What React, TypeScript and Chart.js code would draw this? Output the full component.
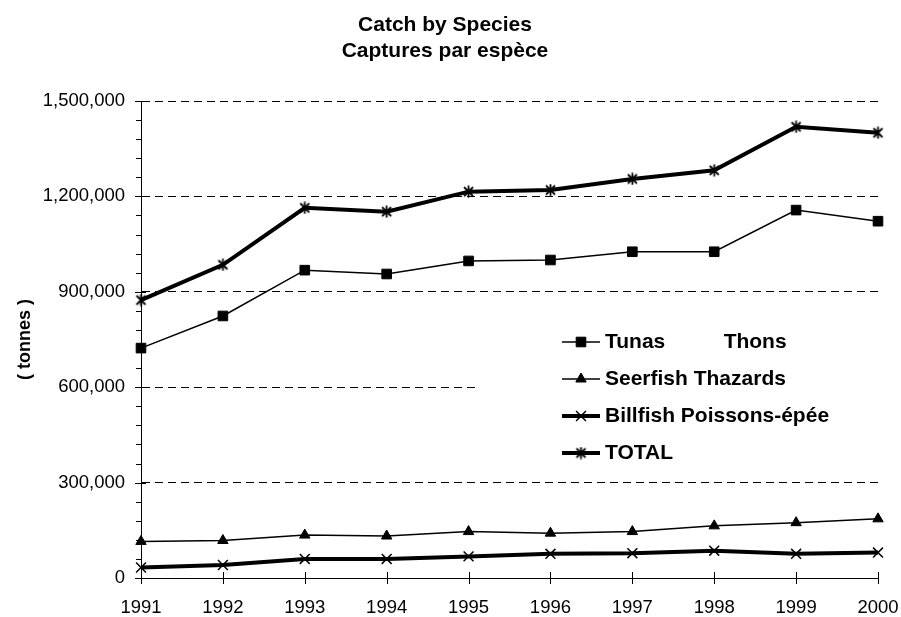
import React, { useEffect, useRef } from 'react';
import { Chart, registerables } from 'chart.js';
import { drawPoint } from 'chart.js/helpers';

Chart.register(...registerables);

// ---- data ----
const years = ['1991', '1992', '1993', '1994', '1995', '1996', '1997', '1998', '1999', '2000'];
const tunas = [723000, 824000, 968000, 956000, 997000, 1000000, 1026000, 1026000, 1157000, 1122000];
const seerfish = [115000, 118000, 135000, 132000, 146000, 141000, 146000, 164000, 174000, 186000];
const billfish = [33000, 41000, 60000, 60000, 68000, 76000, 78000, 86000, 76000, 80000];
const total = [874000, 985000, 1164000, 1152000, 1215000, 1220000, 1255000, 1282000, 1419000, 1400000];
const seriesLabels = ['Tunas          Thons', 'Seerfish Thazards', 'Billfish Poissons-épée', 'TOTAL'];
const titleLines = ['Catch by Species', 'Captures par espèce'];
const yAxisTitle = '( tonnes )';
const yMin = 0;
const yMax = 1500000;
const yMinorStep = 60000;
const yMajorStep = 300000;

const FONT = 'Arial, "Liberation Sans", Helvetica, sans-serif';

function makeAsterisk(): HTMLCanvasElement {
  const c = document.createElement('canvas');
  c.width = 13;
  c.height = 13;
  const g = c.getContext('2d')!;
  g.strokeStyle = '#000';
  g.lineWidth = 1.8;
  g.beginPath();
  g.moveTo(2, 2);
  g.lineTo(11, 11);
  g.moveTo(11, 2);
  g.lineTo(2, 11);
  g.moveTo(6.5, 0.5);
  g.lineTo(6.5, 12.5);
  g.stroke();
  return c;
}

const crossTicks = {
  id: 'crossTicks',
  beforeDatasetsDraw(chart: any) {
    const { ctx } = chart;
    const x = chart.scales.x;
    const y = chart.scales.y;
    ctx.save();
    ctx.strokeStyle = '#000';
    ctx.lineWidth = 1;
    ctx.setLineDash([]);
    ctx.beginPath();
    x.ticks.forEach((_t: any, i: number) => {
      const px = Math.round(x.getPixelForTick(i)) + 0.5;
      ctx.moveTo(px, y.bottom - 6);
      ctx.lineTo(px, y.bottom + 6);
    });
    y.ticks.forEach((t: any, i: number) => {
      const py = Math.round(y.getPixelForTick(i)) + 0.5;
      const major = t.value % yMajorStep === 0;
      ctx.moveTo(x.left - (major ? 6 : 5), py);
      ctx.lineTo(x.left + (major ? 5 : 0), py);
    });
    ctx.stroke();
    ctx.restore();
  },
};

const boxLegend = {
  id: 'boxLegend',
  afterDatasetsDraw(chart: any, _args: any, o: any) {
    const { ctx } = chart;
    ctx.save();
    ctx.fillStyle = '#fff';
    ctx.fillRect(o.left, o.top, o.right - o.left, o.bottom - o.top);
    chart.data.datasets.forEach((ds: any, i: number) => {
      const y = o.firstRow + i * o.rowGap;
      ctx.setLineDash([]);
      ctx.strokeStyle = ds.borderColor;
      ctx.lineWidth = ds.borderWidth;
      ctx.beginPath();
      ctx.moveTo(o.lineStart, y);
      ctx.lineTo(o.lineEnd, y);
      ctx.stroke();
      ctx.fillStyle = ds.pointBackgroundColor;
      ctx.strokeStyle = ds.pointBorderColor;
      ctx.lineWidth = ds.pointBorderWidth;
      drawPoint(ctx, { pointStyle: ds.pointStyle, radius: ds.pointRadius, rotation: 0, borderWidth: ds.pointBorderWidth }, (o.lineStart + o.lineEnd) / 2, y);
      ctx.fillStyle = '#000';
      ctx.font = o.font;
      ctx.textBaseline = 'middle';
      ctx.textAlign = 'left';
      ctx.fillText(ds.label, o.textX, y);
    });
    ctx.restore();
  },
};

export default function App() {
  const ref = useRef<HTMLCanvasElement>(null);
  useEffect(() => {
    document.body.style.margin = '0';
    const asterisk = makeAsterisk();
    const common = { borderColor: '#000', pointBackgroundColor: '#000', pointBorderColor: '#000', tension: 0, fill: false };
    const chart = new Chart(ref.current!, {
      type: 'line',
      data: {
        labels: years,
        datasets: [
          { ...common, label: seriesLabels[0], data: tunas, borderWidth: 1.5, pointStyle: 'rect', pointRadius: 6.8, pointBorderWidth: 1 },
          { ...common, label: seriesLabels[1], data: seerfish, borderWidth: 1.5, pointStyle: 'triangle', pointRadius: 6, pointBorderWidth: 1 },
          { ...common, label: seriesLabels[2], data: billfish, borderWidth: 4, pointStyle: 'crossRot', pointRadius: 7, pointBorderWidth: 1.5 },
          { ...common, label: seriesLabels[3], data: total, borderWidth: 4, pointStyle: asterisk as any, pointRadius: 6, pointBorderWidth: 1.5 },
        ] as any,
      },
      options: {
        animation: false,
        responsive: true,
        maintainAspectRatio: false,
        layout: { padding: { left: 12, right: 23, top: 0, bottom: 0 } },
        plugins: {
          legend: { display: false },
          tooltip: { enabled: false },
          title: {
            display: true,
            text: titleLines,
            color: '#000',
            font: { family: FONT, size: 21, weight: 'bold', lineHeight: 1.2 },
            padding: { top: 13, bottom: 37.6 },
          },
          boxLegend: {
            left: 476, top: 318, right: 886, bottom: 476,
            firstRow: 342, rowGap: 37,
            lineStart: 562, lineEnd: 600, textX: 605,
            font: 'bold 21px ' + FONT,
          },
        } as any,
        scales: {
          x: {
            type: 'category',
            offset: false,
            grid: { display: false, drawTicks: false },
            border: { display: true, color: '#000', width: 1 },
            ticks: { color: '#000', font: { family: FONT, size: 18.5 }, padding: 19, maxRotation: 0, autoSkip: false },
            afterFit(scale: any) {
              scale.height = 39;
              scale.paddingLeft = 0;
              scale.paddingRight = 0;
            },
          },
          y: {
            min: yMin,
            max: yMax,
            grid: {
              drawTicks: false,
              color: (c: any) => (c.tick && c.tick.value % yMajorStep === 0 && c.tick.value !== 0 ? '#000' : 'rgba(0,0,0,0)'),
              lineWidth: 1,
            },
            border: { display: true, color: '#000', width: 1, dash: [8, 5] },
            ticks: {
              stepSize: yMinorStep,
              autoSkip: false,
              color: '#000',
              padding: 16,
              font: { family: FONT, size: 18.5 },
              callback: (v: any) => (Number(v) % yMajorStep === 0 ? Number(v).toLocaleString('en-US') : ''),
            },
            title: {
              display: true,
              text: yAxisTitle,
              color: '#000',
              font: { family: FONT, size: 18, weight: 'bold', lineHeight: 1.2 },
              padding: { top: 2, bottom: 0 },
            },
            afterFit(scale: any) { scale.width = 129; },
          },
        },
      },
      plugins: [crossTicks, boxLegend],
    });
    return () => chart.destroy();
  }, []);
  return (
    <div style={{ position: 'fixed', left: 0, top: 0, width: 901, height: 617 }}>
      <canvas ref={ref} />
    </div>
  );
}
